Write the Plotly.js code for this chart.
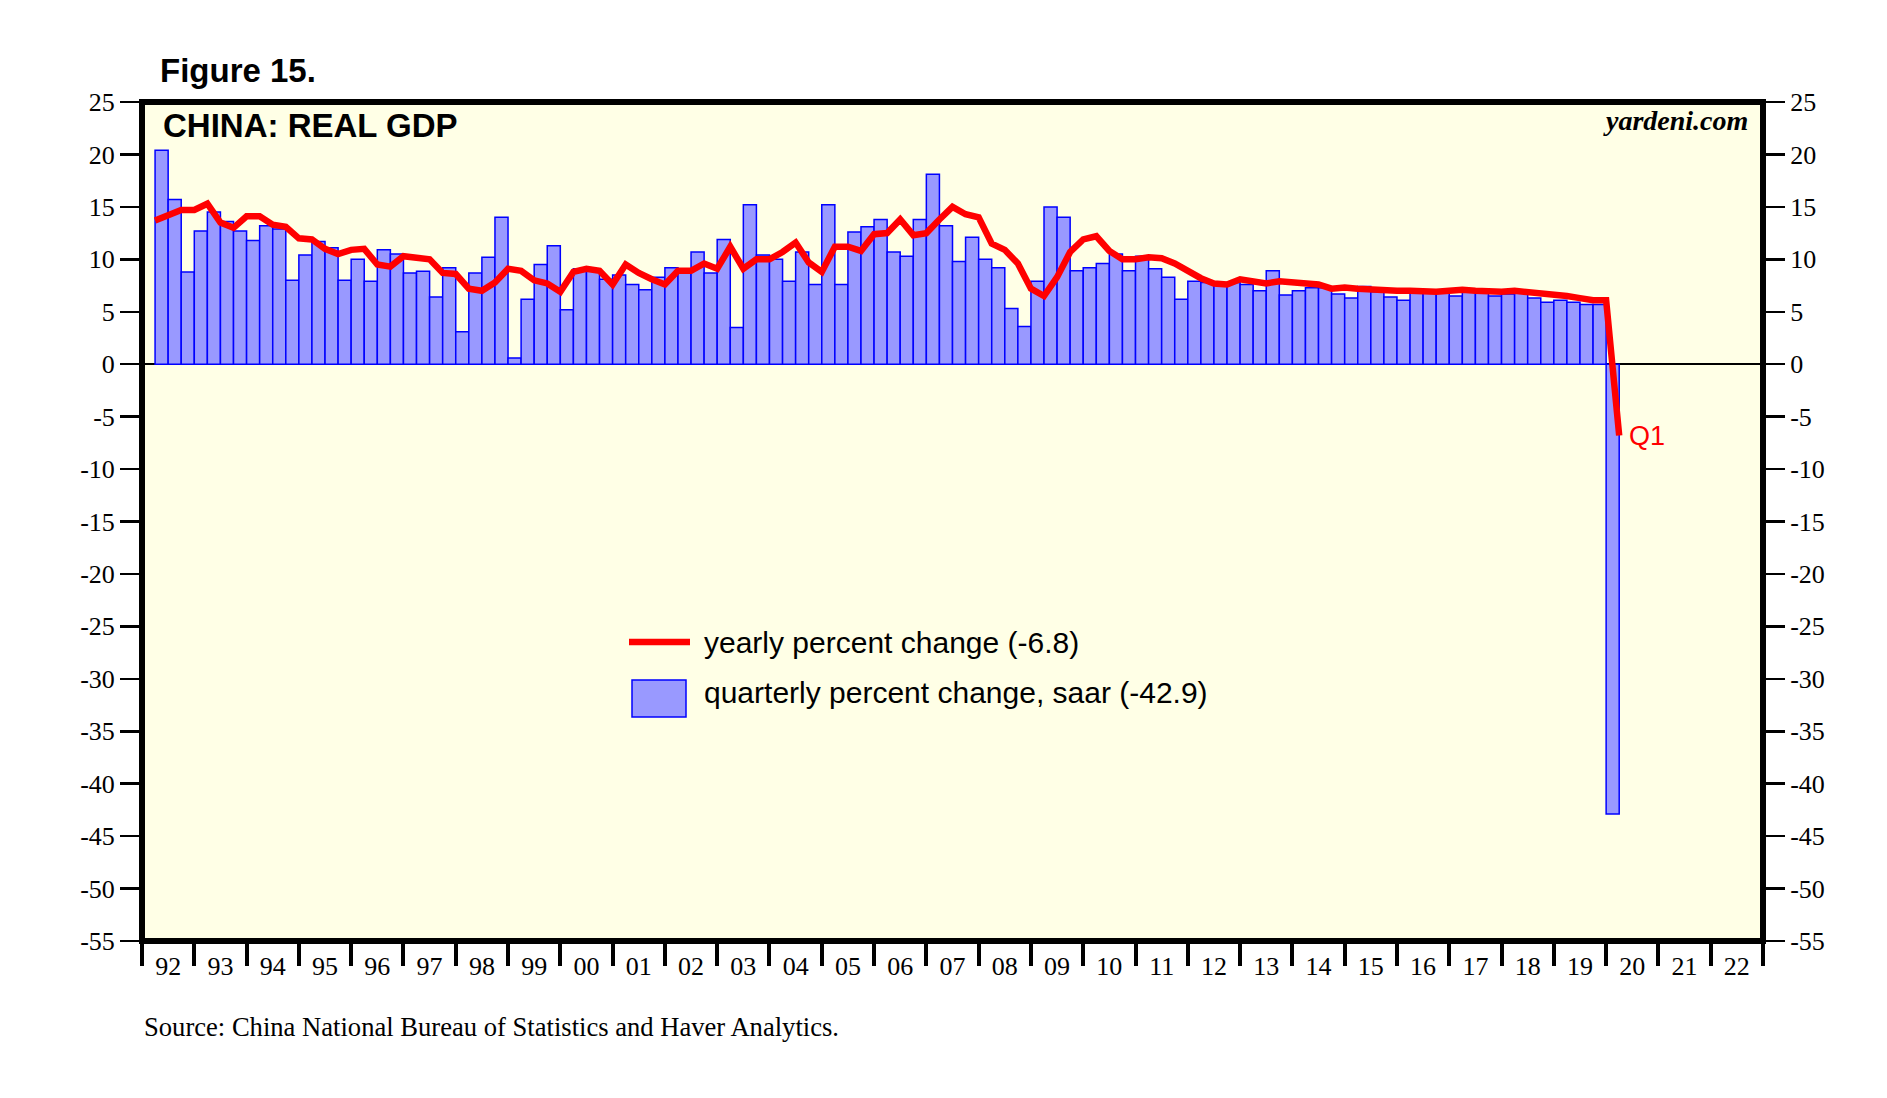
<!DOCTYPE html>
<html><head><meta charset="utf-8">
<script src="https://cdn.plot.ly/plotly-3.0.1.min.js"></script>
<style>html,body{margin:0;padding:0;background:#fff}#chart{width:1887px;height:1098px}</style>
</head><body><div id="chart"></div>
<script>
// yearly percent change, 1992Q1 .. 2020Q1
const yearlyChange = [
  13.7, 14.2, 14.7, 14.7,   15.3, 13.5, 13.0, 14.1,   14.1, 13.3, 13.1, 12.0,
  11.9, 11.0, 10.5, 10.9,   11.0, 9.5, 9.3, 10.3,     10.1, 10.0, 8.7, 8.6,
  7.2, 7.0, 7.8, 9.1,       8.9, 8.0, 7.7, 6.9,       8.8, 9.1, 8.9, 7.6,
  9.5, 8.7, 8.1, 7.6,       8.9, 8.9, 9.6, 9.1,       11.2, 9.1, 10.0, 10.0,
  10.7, 11.6, 9.7, 8.8,     11.2, 11.2, 10.8, 12.4,   12.5, 13.8, 12.3, 12.5,
  13.8, 15.0, 14.3, 14.0,   11.5, 10.9, 9.6, 7.2,     6.5, 8.3, 10.7, 11.9,
  12.2, 10.8, 10.0, 10.0,   10.2, 10.1, 9.6, 8.9,     8.2, 7.7, 7.6, 8.1,
  7.9, 7.7, 7.9, 7.8,       7.6, 7.6, 7.2, 7.3,       7.2, 7.1, 7.0, 7.0,
  7.0, 6.9, 6.9, 7.0,       7.1, 7.0, 6.9, 6.9,       7.0, 6.9, 6.7, 6.6,
  6.5, 6.3, 6.1, 6.1,
  -6.8
];
// quarterly percent change, saar, 1992Q2 .. 2020Q1
const quarterlyChange = [
        20.4, 15.7, 8.8,    12.7, 14.5, 13.6, 12.7,   11.8, 13.2, 12.9, 8.0,
  10.4, 11.7, 11.1, 8.0,    10.0, 7.9, 10.9, 10.5,    8.7, 8.85, 6.4, 9.2,
  3.1, 8.7, 10.2, 14.0,     0.6, 6.2, 9.5, 11.3,      5.2, 9.1, 8.9, 8.1,
  8.5, 7.6, 7.1, 8.3,       9.2, 9.1, 10.7, 8.7,      11.9, 3.5, 15.2, 10.4,
  10.0, 7.9, 10.7, 7.6,     15.2, 7.6, 12.6, 13.1,    13.8, 10.7, 10.3, 13.8,
  18.1, 13.2, 9.8, 12.1,    10.0, 9.2, 5.3, 3.6,      7.9, 15.0, 14.0, 8.9,
  9.2, 9.6, 10.5, 8.9,      10.3, 9.1, 8.3, 6.2,      7.9, 7.8, 7.6, 7.8,
  7.6, 7.0, 8.9, 6.6,       7.0, 7.3, 7.3, 6.7,       6.3, 7.4, 6.9, 6.4,
  6.1, 7.2, 7.1, 6.9,       6.5, 7.0, 6.9, 6.5,       6.7, 6.9, 6.3, 5.9,
  6.1, 5.9, 5.7, 5.7,
  -42.9
];
const yearTickLabels = ['92','93','94','95','96','97','98','99','00','01','02','03','04','05','06','07',
  '08','09','10','11','12','13','14','15','16','17','18','19','20','21','22'];
const yTickValues = [25,20,15,10,5,0,-5,-10,-15,-20,-25,-30,-35,-40,-45,-50,-55];
const firstYear = 1992;
const lastYear = 2023;

const lineQuarters = yearlyChange.map((_, i) => (firstYear + Math.floor(i / 4)) + 'Q' + (i % 4 + 1));
const barQuarters = lineQuarters.slice(lineQuarters.length - quarterlyChange.length);
function qYear(q) { return +q.slice(0, 4); }
function qNum(q) { return +q.slice(5); }
function qEnd(q) { return qYear(q) + qNum(q) / 4; }
function qMid(q) { return qYear(q) + (qNum(q) - 0.5) / 4; }
const yearBounds = yearTickLabels.map((_, i) => firstYear + i).concat([lastYear]);
const yearMids = yearTickLabels.map((_, i) => firstYear + i + 0.5);

const serif = '"Liberation Serif", "Times New Roman", serif';
const sans = '"Liberation Sans", Arial, sans-serif';
const tickFont = {family: serif, size: 26, color: '#000'};

const bars = {
  type: 'bar', name: 'quarterly percent change, saar (-42.9)',
  x: barQuarters.map(qMid), y: quarterlyChange, width: 0.25,
  xaxis: 'x', yaxis: 'y',
  marker: {color: '#9999FF', line: {color: '#0000FF', width: 1.5}},
  hoverinfo: 'skip'
};
const line = {
  type: 'scatter', mode: 'lines', name: 'yearly percent change (-6.8)',
  x: lineQuarters.map(qEnd), y: yearlyChange,
  xaxis: 'x2', yaxis: 'y2',
  line: {color: '#FF0000', width: 6.5}, hoverinfo: 'skip'
};

const L = 142, R = 1763, T = 102, B = 941;
const px = v => (v - L) / (R - L);
const py = v => (B - v) / (B - T);

const layout = {
  width: 1887, height: 1098,
  margin: {l: L, r: 1887 - R, t: T, b: 1098 - B, pad: 0},
  paper_bgcolor: '#FFFFFF', plot_bgcolor: '#FFFFE6',
  showlegend: false, bargap: 0, hovermode: false,
  xaxis: {
    range: [firstYear, lastYear], tickmode: 'array', tickvals: yearBounds,
    ticks: 'outside', ticklen: 24, tickwidth: 4, tickcolor: '#000', showticklabels: false,
    showline: false, showgrid: false, zeroline: false, fixedrange: true
  },
  xaxis2: {
    overlaying: 'x', anchor: 'y2', side: 'bottom', range: [firstYear, lastYear],
    tickmode: 'array', tickvals: yearMids, ticktext: yearTickLabels, ticks: '',
    showline: false, showgrid: false, zeroline: false, tickfont: tickFont,
    ticklabelstandoff: 7, fixedrange: true
  },
  yaxis: {
    range: [-55, 25], tickmode: 'array', tickvals: yTickValues, ticktext: yTickValues.map(String),
    ticks: 'outside', ticklen: 21, tickwidth: 2.5, tickcolor: '#000', tickfont: tickFont,
    showline: false, showgrid: false, zeroline: true, zerolinecolor: '#000', zerolinewidth: 1.5, fixedrange: true
  },
  yaxis2: {
    overlaying: 'y', anchor: 'x2', side: 'right', range: [-55, 25],
    tickmode: 'array', tickvals: yTickValues, ticktext: yTickValues.map(String),
    ticks: 'outside', ticklen: 21, tickwidth: 2.5, tickcolor: '#000', tickfont: tickFont,
    showline: false, showgrid: false, zeroline: false, fixedrange: true
  },
  shapes: [
    {type: 'rect', xref: 'paper', yref: 'paper', x0: 0, x1: 1, y0: 0, y1: 1, layer: 'above',
     line: {color: '#000', width: 6}},
    {type: 'line', xref: 'paper', yref: 'paper', x0: px(629), x1: px(690), y0: py(642), y1: py(642),
     line: {color: '#FF0000', width: 6.5}},
    {type: 'rect', xref: 'paper', yref: 'paper', x0: px(632), x1: px(686), y0: py(717), y1: py(680),
     fillcolor: '#9999FF', line: {color: '#0000FF', width: 1.5}}
  ],
  annotations: [
    {xref: 'paper', yref: 'paper', x: px(158), y: py(71), xanchor: 'left', yanchor: 'middle', showarrow: false,
     text: '<b>Figure 15.</b>', font: {family: sans, size: 33, color: '#000'}},
    {xref: 'paper', yref: 'paper', x: px(161), y: py(126), xanchor: 'left', yanchor: 'middle', showarrow: false,
     text: '<b>CHINA: REAL GDP</b>', font: {family: sans, size: 33, color: '#000'}},
    {xref: 'paper', yref: 'paper', x: px(1750), y: py(121), xanchor: 'right', yanchor: 'middle', showarrow: false,
     text: '<b><i>yardeni.com</i></b>', font: {family: serif, size: 28, color: '#000'}},
    {xref: 'x2', yref: 'y2', x: qEnd(lineQuarters[lineQuarters.length - 1]), y: yearlyChange[yearlyChange.length - 1],
     xanchor: 'left', yanchor: 'middle', xshift: 8, showarrow: false,
     text: 'Q1', font: {family: sans, size: 27, color: '#FF0000'}},
    {xref: 'paper', yref: 'paper', x: px(702), y: py(642), xanchor: 'left', yanchor: 'middle', showarrow: false,
     text: line.name, font: {family: sans, size: 30, color: '#000'}},
    {xref: 'paper', yref: 'paper', x: px(702), y: py(692), xanchor: 'left', yanchor: 'middle', showarrow: false,
     text: bars.name, font: {family: sans, size: 30, color: '#000'}},
    {xref: 'paper', yref: 'paper', x: px(142), y: py(1027), xanchor: 'left', yanchor: 'middle', showarrow: false,
     text: 'Source: China National Bureau of Statistics and Haver Analytics.', font: {family: serif, size: 26.6, color: '#000'}}
  ]
};

Plotly.newPlot('chart', [bars, line], layout, {staticPlot: true, displayModeBar: false});
</script>
</body></html>
